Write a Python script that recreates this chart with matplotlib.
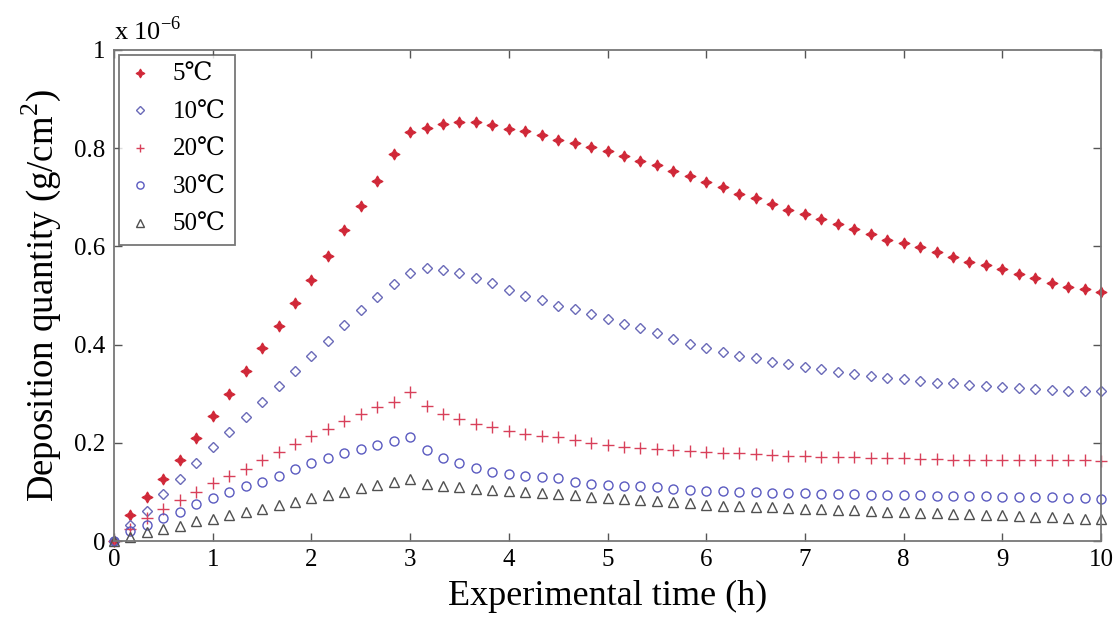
import numpy as np
import matplotlib
matplotlib.use("Agg")
import matplotlib.pyplot as plt

plt.rcParams['font.family'] = ['Liberation Serif', 'DejaVu Serif', 'Noto Sans CJK SC']
plt.rcParams['mathtext.fontset'] = 'custom'
plt.rcParams['mathtext.rm'] = 'Liberation Serif'

# time in hours (10-minute steps)
time_h = np.arange(61) / 6.0

# deposition quantity in units of 1e-6 g/cm^2
dep_5C = [0.000, 0.052, 0.089, 0.126, 0.165, 0.210, 0.255, 0.299, 0.347, 0.394,
          0.438, 0.484, 0.531, 0.580, 0.633, 0.683, 0.734, 0.788, 0.833, 0.842,
          0.850, 0.853, 0.853, 0.848, 0.839, 0.835, 0.826, 0.816, 0.810, 0.802,
          0.794, 0.784, 0.774, 0.765, 0.753, 0.743, 0.731, 0.720, 0.707, 0.698,
          0.687, 0.675, 0.667, 0.655, 0.645, 0.635, 0.625, 0.614, 0.606, 0.598,
          0.588, 0.578, 0.569, 0.562, 0.553, 0.543, 0.535, 0.526, 0.517, 0.514,
          0.507]
dep_10C = [0.000, 0.033, 0.062, 0.096, 0.126, 0.159, 0.191, 0.222, 0.253, 0.284,
           0.316, 0.346, 0.377, 0.408, 0.440, 0.470, 0.497, 0.523, 0.546, 0.555,
           0.552, 0.546, 0.535, 0.526, 0.512, 0.499, 0.490, 0.479, 0.472, 0.462,
           0.452, 0.442, 0.433, 0.423, 0.412, 0.402, 0.394, 0.385, 0.377, 0.372,
           0.365, 0.360, 0.355, 0.350, 0.345, 0.341, 0.336, 0.331, 0.329, 0.326,
           0.322, 0.321, 0.318, 0.316, 0.313, 0.311, 0.309, 0.307, 0.306, 0.305,
           0.305]
dep_20C = [0.000, 0.025, 0.047, 0.065, 0.084, 0.100, 0.118, 0.133, 0.146, 0.164,
           0.181, 0.197, 0.213, 0.229, 0.244, 0.259, 0.272, 0.283, 0.304, 0.275,
           0.259, 0.248, 0.238, 0.232, 0.225, 0.218, 0.214, 0.211, 0.206, 0.199,
           0.196, 0.192, 0.190, 0.187, 0.186, 0.184, 0.182, 0.180, 0.179, 0.177,
           0.175, 0.173, 0.173, 0.172, 0.171, 0.171, 0.169, 0.169, 0.169, 0.167,
           0.167, 0.165, 0.165, 0.165, 0.165, 0.165, 0.164, 0.164, 0.164, 0.164,
           0.163]
dep_30C = [0.000, 0.021, 0.033, 0.047, 0.060, 0.076, 0.087, 0.100, 0.111, 0.121,
           0.133, 0.147, 0.159, 0.170, 0.179, 0.188, 0.196, 0.204, 0.212, 0.186,
           0.169, 0.159, 0.148, 0.141, 0.137, 0.133, 0.131, 0.128, 0.121, 0.116,
           0.114, 0.112, 0.111, 0.109, 0.106, 0.104, 0.102, 0.101, 0.100, 0.100,
           0.098, 0.098, 0.097, 0.096, 0.096, 0.095, 0.094, 0.094, 0.093, 0.093,
           0.092, 0.092, 0.091, 0.091, 0.090, 0.090, 0.089, 0.089, 0.088, 0.087,
           0.086]
dep_50C = [0.000, 0.008, 0.018, 0.024, 0.031, 0.040, 0.045, 0.053, 0.060, 0.066,
           0.074, 0.080, 0.087, 0.094, 0.100, 0.107, 0.114, 0.121, 0.126, 0.117,
           0.112, 0.109, 0.105, 0.103, 0.101, 0.099, 0.097, 0.095, 0.093, 0.090,
           0.088, 0.086, 0.084, 0.082, 0.080, 0.077, 0.074, 0.072, 0.071, 0.070,
           0.069, 0.068, 0.066, 0.065, 0.064, 0.063, 0.061, 0.060, 0.059, 0.058,
           0.057, 0.056, 0.054, 0.053, 0.052, 0.050, 0.049, 0.048, 0.047, 0.045,
           0.044]

labels = ['5℃', '10℃', '20℃', '30℃', '50℃']
x_ticks = list(range(0, 11))
y_ticks = [0, 0.2, 0.4, 0.6, 0.8, 1.0]
y_tick_labels = ['0', '0.2', '0.4', '0.6', '0.8', '1']

fig = plt.figure(figsize=(11.2, 6.27), dpi=100)
ax = fig.add_axes([114/1120, 1 - 541/627, (1101-114)/1120, (541-50)/627])

styles = [
    dict(marker=(4, 1, 0), color='#d02838', markersize=8, markeredgewidth=0.8),
    dict(marker='D', color='#6a6ab8', markerfacecolor='none', markersize=5.5, markeredgewidth=1.0),
    dict(marker='+', color='#d8405a', markersize=8, markeredgewidth=1.0),
    dict(marker='o', color='#5a5ac0', markerfacecolor='none', markersize=6.5, markeredgewidth=1.0),
    dict(marker='^', color='#505050', markerfacecolor='none', markersize=6.5, markeredgewidth=1.0),
]
series = [dep_5C, dep_10C, dep_20C, dep_30C, dep_50C]
for data, lab, st in zip(series, labels, styles):
    ax.plot(time_h, data, linestyle='none', label=lab, clip_on=False, **st)

ax.set_xlim(0, 10)
ax.set_ylim(0, 1)
ax.set_xticks(x_ticks)
ax.set_yticks(y_ticks)
ax.set_yticklabels(y_tick_labels)
ax.tick_params(direction='in', top=True, right=True, length=6, width=1,
               labelsize=18, color='#555555', pad=6)
for sp in ax.spines.values():
    sp.set_color('#777777')
    sp.set_linewidth(1.3)

ax.set_xlabel('Experimental time (h)', fontsize=26, labelpad=6)
ax.set_ylabel('Deposition quantity (g/cm$^2$)', fontsize=26.5, labelpad=8)
ax.text(0.0, 1.01, 'x 10$^{-6}$', transform=ax.transAxes, fontsize=19,
        ha='left', va='bottom')

leg = ax.legend(loc='upper left', fontsize=18, frameon=True, fancybox=False,
                edgecolor='#555555', borderaxespad=0.2, labelspacing=0.6,
                handlelength=1.0, handletextpad=0.8, borderpad=0.35,
                markerscale=0.8)
leg.get_frame().set_linewidth(1.3)

fig.savefig('out.png', dpi=100, facecolor='white')
